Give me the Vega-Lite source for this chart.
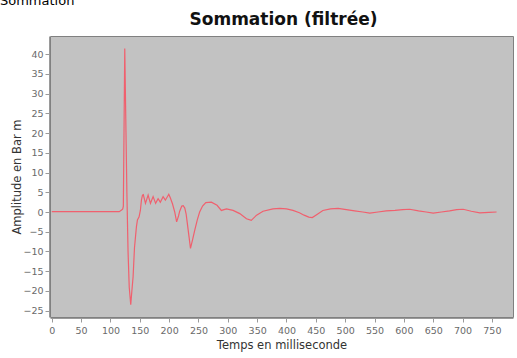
{
  "$schema": "https://vega.github.io/schema/vega-lite/v6.json",
  "width": 463,
  "height": 281,
  "autosize": "none",
  "padding": {"left": 50, "top": 36, "right": 4, "bottom": 41},
  "background": "white",
  "title": {
    "text": "Sommation",
    "font": "DejaVu Sans",
    "fontSize": 13,
    "fontWeight": "normal",
    "color": "#000000",
    "anchor": "start",
    "frame": "group",
    "dx": -50,
    "offset": 9,
    "dy": 7
  },
  "config": {
    "view": {"fill": "#c2c2c2", "stroke": "#808080", "strokeWidth": 1},
    "axis": {
      "labelFont": "DejaVu Sans",
      "labelFontSize": 9.5,
      "labelColor": "#6a6a6a",
      "titleFont": "DejaVu Sans",
      "titleFontSize": 11.5,
      "titleFontWeight": "normal",
      "titleColor": "#333333",
      "tickColor": "#9a9a9a",
      "domainColor": "#9a9a9a",
      "tickSize": 4,
      "grid": false
    }
  },
  "resolve": {"axis": {"x": "independent", "y": "independent"}},
  "data": {
    "values": [
      {"t": 0, "v": 0.1}, {"t": 20, "v": 0.1}, {"t": 40, "v": 0.1}, {"t": 60, "v": 0.1},
      {"t": 80, "v": 0.1}, {"t": 100, "v": 0.1}, {"t": 115, "v": 0.1}, {"t": 119, "v": 0.5},
      {"t": 121, "v": 0.8}, {"t": 122, "v": 1.5}, {"t": 124.4, "v": 41.4}, {"t": 126, "v": 25},
      {"t": 128, "v": 5}, {"t": 130, "v": -10}, {"t": 132, "v": -19}, {"t": 134.6, "v": -23.5},
      {"t": 136.5, "v": -20}, {"t": 138.6, "v": -16.4}, {"t": 141, "v": -9}, {"t": 144.3, "v": -3.7},
      {"t": 146, "v": -2}, {"t": 148.8, "v": -1.2}, {"t": 151, "v": 0.4}, {"t": 152.8, "v": 3.0},
      {"t": 154.6, "v": 4.3}, {"t": 156, "v": 4.4}, {"t": 159.7, "v": 2.2}, {"t": 164.2, "v": 4.3},
      {"t": 168.2, "v": 2.2}, {"t": 172.7, "v": 3.9}, {"t": 177, "v": 2.2}, {"t": 181.2, "v": 3.4},
      {"t": 185, "v": 2.5}, {"t": 189.7, "v": 3.9}, {"t": 193.6, "v": 3.0}, {"t": 199.4, "v": 4.5},
      {"t": 202, "v": 3.6}, {"t": 205.7, "v": 2.1}, {"t": 209.6, "v": 0}, {"t": 212.8, "v": -2.5},
      {"t": 216, "v": -1}, {"t": 218, "v": 0.2}, {"t": 221.6, "v": 1.5}, {"t": 224, "v": 1.6},
      {"t": 226.7, "v": 1.0}, {"t": 229, "v": -0.5}, {"t": 232, "v": -4}, {"t": 236.4, "v": -9.2},
      {"t": 240, "v": -7}, {"t": 243.7, "v": -4.6}, {"t": 248, "v": -2}, {"t": 252, "v": 0},
      {"t": 257, "v": 1.5}, {"t": 262.5, "v": 2.4}, {"t": 272, "v": 2.5}, {"t": 281.7, "v": 1.7},
      {"t": 289, "v": 0.4}, {"t": 297.7, "v": 0.8}, {"t": 309, "v": 0.4}, {"t": 320.4, "v": -0.4},
      {"t": 331.8, "v": -1.7}, {"t": 340, "v": -2.1}, {"t": 349, "v": -0.8}, {"t": 360, "v": 0.2},
      {"t": 377, "v": 0.8}, {"t": 388.6, "v": 0.9}, {"t": 400, "v": 0.8}, {"t": 411, "v": 0.4},
      {"t": 422, "v": -0.2}, {"t": 430, "v": -0.8}, {"t": 438, "v": -1.3}, {"t": 444, "v": -1.4},
      {"t": 452, "v": -0.6}, {"t": 462, "v": 0.4}, {"t": 475, "v": 0.8}, {"t": 488, "v": 0.9},
      {"t": 502, "v": 0.6}, {"t": 516, "v": 0.3}, {"t": 530, "v": 0}, {"t": 542, "v": -0.3},
      {"t": 556, "v": 0}, {"t": 570, "v": 0.3}, {"t": 585, "v": 0.4}, {"t": 598, "v": 0.6},
      {"t": 610, "v": 0.7}, {"t": 625, "v": 0.3}, {"t": 638, "v": 0}, {"t": 650, "v": -0.3},
      {"t": 664, "v": 0}, {"t": 678, "v": 0.3}, {"t": 690, "v": 0.6}, {"t": 701, "v": 0.7},
      {"t": 715, "v": 0.2}, {"t": 729.5, "v": -0.2}, {"t": 745, "v": -0.1}, {"t": 758, "v": 0}
    ]
  },
  "layer": [
    {
      "mark": {"type": "line", "color": "#f0606e", "strokeWidth": 1.2, "clip": true},
      "encoding": {
        "x": {
          "field": "t",
          "type": "quantitative",
          "scale": {"domain": [-3, 786], "nice": false, "zero": false},
          "axis": {
            "title": "Temps en milliseconde",
            "values": [0, 50, 100, 150, 200, 250, 300, 350, 400, 450, 500, 550, 600, 650, 700, 750],
            "labelPadding": 3,
            "titlePadding": 5,
            "offset": 1
          }
        },
        "y": {
          "field": "v",
          "type": "quantitative",
          "scale": {"domain": [-26.6, 44.6], "nice": false, "zero": false},
          "axis": {
            "title": "Amplitude en Bar m",
            "values": [-25, -20, -15, -10, -5, 0, 5, 10, 15, 20, 25, 30, 35, 40],
            "labelPadding": 2,
            "titlePadding": 0,
            "offset": 1
          }
        }
      }
    },
    {
      "mark": {"type": "line", "opacity": 0, "clip": true},
      "encoding": {
        "x": {
          "field": "t",
          "type": "quantitative",
          "axis": {
            "orient": "top",
            "title": "Sommation (filtrée)",
            "titleFont": "DejaVu Sans",
            "titleFontSize": 17,
            "titleFontWeight": "bold",
            "titleColor": "#111111",
            "titleAnchor": "middle",
            "titleAlign": "center",
            "titleBaseline": "alphabetic",
            "titleX": 233,
            "titleY": -12,
            "labels": false,
            "ticks": false,
            "domain": false
          }
        },
        "y": {"field": "v", "type": "quantitative", "axis": null}
      }
    }
  ]
}
